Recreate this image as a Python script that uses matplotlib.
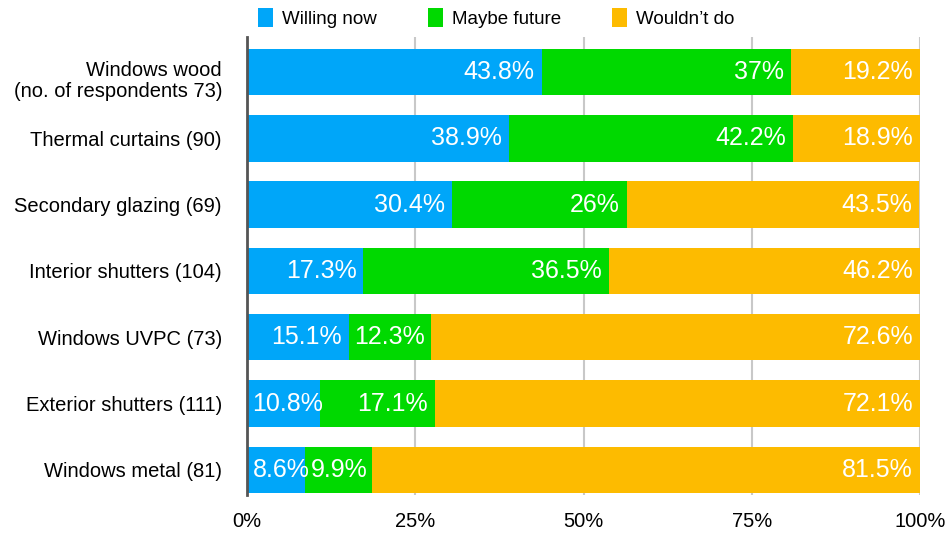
import numpy as np
import matplotlib
matplotlib.use("Agg")
import matplotlib.pyplot as plt
import matplotlib.transforms as mtransforms

plt.rcParams['font.family'] = ['Liberation Sans', 'DejaVu Sans']

# data (percent of respondents)
categories = ["Windows wood\n(no. of respondents 73)", "Thermal curtains (90)",
              "Secondary glazing (69)", "Interior shutters (104)",
              "Windows UVPC (73)", "Exterior shutters (111)", "Windows metal (81)"]
willing_now = [43.8, 38.9, 30.4, 17.3, 15.1, 10.8, 8.6]
maybe_future = [37, 42.2, 26, 36.5, 12.3, 17.1, 9.9]
wouldnt_do = [19.2, 18.9, 43.5, 46.2, 72.6, 72.1, 81.5]
series_names = ["Willing now", "Maybe future", "Wouldn\u2019t do"]
colors = ["#00A6F9", "#00D900", "#FDBB00"]
xticks = [0, 25, 50, 75, 100]
xtick_labels = ["0%", "25%", "50%", "75%", "100%"]

fig = plt.figure(figsize=(9.51, 5.36), dpi=100)
ax = fig.add_axes([247/951, 1-495/536, 673/951, 458/536])
ax.set_xlim(0, 100)
ax.set_ylim(6.38, -0.53)

y = np.arange(len(categories))
left = np.zeros(len(categories))
bars = []
labels = []
for vals, name, c in zip([willing_now, maybe_future, wouldnt_do], series_names, colors):
    vals = np.array(vals, dtype=float)
    b = ax.barh(y, vals, left=left, height=0.7, color=c, label=name, zorder=2)
    bars.append(b)
    for yi, l, v in zip(y, left, vals):
        t = ax.annotate("{:g}%".format(v), xy=(l + v, yi), xytext=(-5, 0),
                        textcoords="offset points", ha="right", va="center",
                        color="white", fontsize=18, zorder=5)
        labels.append((t, l, yi))
    left = left + vals

# labels that don't fit inside their segment start at the segment's left edge
fig.canvas.draw()
r = fig.canvas.get_renderer()
for t, l, yi in labels:
    bb = t.get_window_extent(r)
    x0 = ax.transData.transform((l, yi))[0]
    if bb.x0 < x0 + 5:
        t.xy = (l, yi)
        t.set_position((4, 0))
        t.set_ha("left")

ax.set_yticks(y)
ax.set_yticklabels(categories, fontsize=14.5, ha="right", linespacing=1.1)
ax.set_xticks(xticks)
ax.set_xticklabels(xtick_labels, fontsize=14.5)
ax.tick_params(axis="y", length=0, pad=18)
ax.tick_params(axis="x", length=0, pad=12)
# two-line label sits a little low in the original
lab0 = ax.get_yticklabels()[0]
lab0.set_transform(lab0.get_transform() +
                   mtransforms.ScaledTranslation(0, -6/100, fig.dpi_scale_trans))
ax.grid(axis="x", color="#c8c8c8", linewidth=1.5, zorder=0)
ax.set_axisbelow(True)
for s in ["top", "right", "bottom"]:
    ax.spines[s].set_visible(False)
ax.spines["left"].set_color("#555555")
ax.spines["left"].set_linewidth(2)
ax.spines["left"].set_zorder(4)

fig.legend(handles=bars, labels=series_names, loc="center left",
           bbox_to_anchor=(258/951, 1-18/536), ncol=3, frameon=False,
           fontsize=13.5, handlelength=0.8, handleheight=1.2,
           handletextpad=0.5, columnspacing=2.7, borderpad=0, borderaxespad=0)

fig.savefig("out.png", dpi=100)
